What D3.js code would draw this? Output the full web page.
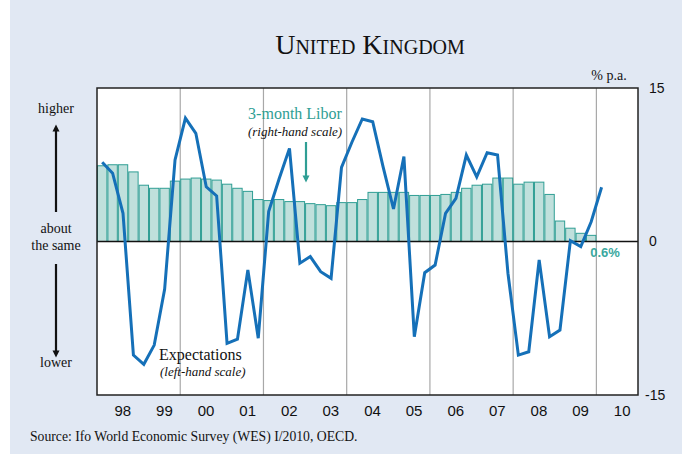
<!DOCTYPE html>
<html>
<head>
<meta charset="utf-8">
<script src="https://cdn.jsdelivr.net/npm/d3@7"></script>
<style>
  html, body { margin: 0; padding: 0; background: #ffffff; }
  svg { display: block; }
</style>
</head>
<body>
<svg id="chart" width="682" height="454"></svg>
<script>
// Quarterly observations, 1998 Q1 onwards
const startYear = 1998;
const yearLabels = ["98", "99", "00", "01", "02", "03", "04", "05", "06", "07", "08", "09", "10"];

// 3-month Libor, % p.a. (right-hand scale), 1998 Q1 – 2009 Q4
const liborValues = [
  7.4, 7.5, 7.5, 6.8,
  5.5, 5.2, 5.2, 5.9,
  6.1, 6.2, 6.1, 6.0,
  5.6, 5.2, 4.9, 4.1,
  4.0, 4.1, 3.9, 3.9,
  3.7, 3.6, 3.5, 3.8,
  3.8, 4.1, 4.8, 4.8,
  4.8, 4.8, 4.5, 4.5,
  4.5, 4.6, 4.8, 5.2,
  5.5, 5.6, 6.2, 6.2,
  5.6, 5.8, 5.8, 4.6,
  2.0, 1.3, 0.8, 0.6
];

// Economic expectations balance (left-hand scale), 1998 Q1 – 2010 Q1
const expectationValues = [
  31.0, 26.7, 11.0, -44.4,
  -48.0, -40.5, -18.7, 31.9,
  48.2, 42.3, 21.4, 17.8,
  -39.8, -38.2, -11.1, -37.8,
  11.7, 24.4, 36.4, -8.5,
  -5.9, -11.8, -14.4, 29.0,
  38.8, 47.9, 46.8, 29.2,
  12.7, 33.2, -37.2, -12.2,
  -9.2, 11.0, 16.9, 33.8,
  25.3, 34.7, 33.8, -12.4,
  -44.4, -43.1, -7.2, -37.2,
  -34.6, 0.3, -2.0, 7.7,
  21.2
];

const rightTicks = [15, 0, -15];
const gridYears = [2000, 2002, 2004, 2006, 2008, 2010];

const serif = "'Liberation Serif', 'Times New Roman', serif";
const sans = "'Liberation Sans', Arial, sans-serif";
const teal = "#2f9e94";
const lineBlue = "#1570b8";

const svg = d3.select("#chart");

// page panel
svg.append("rect").attr("x", 10).attr("y", 0).attr("width", 672).attr("height", 454)
  .attr("fill", "#e1e8f3");

const plot = { left: 97, right: 638, top: 88, bottom: 395 };

const x = d3.scaleLinear().domain([startYear, startYear + 13]).range([plot.left, plot.right]);
const yRight = d3.scaleLinear().domain([-15, 15]).range([plot.bottom, plot.top]);
const yLeft = d3.scaleLinear().domain([-60, 60]).range([plot.bottom, plot.top]);

// plot background
svg.append("rect")
  .attr("x", plot.left).attr("y", plot.top)
  .attr("width", plot.right - plot.left).attr("height", plot.bottom - plot.top)
  .attr("fill", "#ffffff");

// vertical gridlines every two years
svg.append("g").selectAll("line").data(gridYears).join("line")
  .attr("x1", d => x(d)).attr("x2", d => x(d))
  .attr("y1", plot.top).attr("y2", plot.bottom)
  .attr("stroke", "#a8a8a8").attr("stroke-width", 1.2);

// Libor bars
const qw = (x(startYear + 1) - x(startYear)) / 4;
svg.append("g").selectAll("rect").data(liborValues).join("rect")
  .attr("x", (d, i) => x(startYear + i / 4) + 0.5)
  .attr("width", qw - 1)
  .attr("y", d => yRight(d))
  .attr("height", d => yRight(0) - yRight(d))
  .attr("fill", "#c0e0dc")
  .attr("stroke", teal)
  .attr("stroke-width", 1);

// zero line
svg.append("line")
  .attr("x1", plot.left).attr("x2", plot.right)
  .attr("y1", yRight(0)).attr("y2", yRight(0))
  .attr("stroke", "#111").attr("stroke-width", 1.5);

// expectations line
const line = d3.line()
  .x((d, i) => x(startYear + i / 4 + 0.125))
  .y(d => yLeft(d));
svg.append("path")
  .datum(expectationValues)
  .attr("d", line)
  .attr("fill", "none")
  .attr("stroke", lineBlue)
  .attr("stroke-width", 3)
  .attr("stroke-linejoin", "miter");

// plot frame
svg.append("rect")
  .attr("x", plot.left).attr("y", plot.top)
  .attr("width", plot.right - plot.left).attr("height", plot.bottom - plot.top)
  .attr("fill", "none").attr("stroke", "#222").attr("stroke-width", 1.5);

// right axis labels
const rightAxis = d3.axisRight(yRight).tickValues(rightTicks).tickSize(0).tickPadding(11)
  .tickFormat(d => d === 0 ? "0" : (d < 0 ? "-" + Math.abs(d) : String(d)));
const ra = svg.append("g").attr("transform", `translate(${plot.right},0)`).call(rightAxis);
ra.select(".domain").remove();
ra.selectAll("text").attr("font-family", sans).attr("font-size", 14).attr("fill", "#111")
  .attr("dx", d => d < 0 ? -4 : 0);

// year labels under the axis
const years = yearLabels.map((t, i) => ({ t, year: startYear + i }));
svg.append("g").selectAll("text").data(years).join("text")
  .attr("x", d => x(d.year + 0.5) + 5)
  .attr("y", 416)
  .attr("text-anchor", "middle")
  .attr("font-family", sans).attr("font-size", 15).attr("fill", "#111")
  .text(d => d.t);

// title
svg.append("text")
  .attr("x", 370).attr("y", 54)
  .attr("text-anchor", "middle")
  .attr("font-family", serif).attr("font-size", 28)
  .style("font-variant", "small-caps")
  .attr("fill", "#111")
  .text("United Kingdom");

svg.append("text")
  .attr("x", 609).attr("y", 80).attr("text-anchor", "middle")
  .attr("font-family", serif).attr("font-size", 14).attr("fill", "#111")
  .text("% p.a.");

// left-hand scale description
const leftLabels = [
  { t: "higher", y: 113 },
  { t: "about", y: 233 },
  { t: "the same", y: 250 },
  { t: "lower", y: 367 }
];
svg.append("g").selectAll("text").data(leftLabels).join("text")
  .attr("x", 56).attr("y", d => d.y).attr("text-anchor", "middle")
  .attr("font-family", serif).attr("font-size", 14).attr("fill", "#111")
  .text(d => d.t);

const defs = svg.append("defs");
defs.append("marker").attr("id", "headBlack")
  .attr("viewBox", "0 0 10 10").attr("refX", 5).attr("refY", 5)
  .attr("markerWidth", 3.2).attr("markerHeight", 3.2).attr("orient", "auto")
  .append("path").attr("d", "M0,0 L10,5 L0,10 Z").attr("fill", "#111");
defs.append("marker").attr("id", "headTeal")
  .attr("viewBox", "0 0 10 10").attr("refX", 5).attr("refY", 5)
  .attr("markerWidth", 3.2).attr("markerHeight", 3.2).attr("orient", "auto")
  .append("path").attr("d", "M0,0 L10,5 L0,10 Z").attr("fill", teal);

svg.append("line").attr("x1", 56).attr("x2", 56).attr("y1", 212).attr("y2", 128)
  .attr("stroke", "#111").attr("stroke-width", 2.2).attr("marker-end", "url(#headBlack)");
svg.append("line").attr("x1", 56).attr("x2", 56).attr("y1", 264).attr("y2", 354)
  .attr("stroke", "#111").attr("stroke-width", 2.2).attr("marker-end", "url(#headBlack)");

// series annotations
svg.append("text").attr("x", 295).attr("y", 119).attr("text-anchor", "middle")
  .attr("font-family", serif).attr("font-size", 16).attr("fill", teal)
  .text("3-month Libor");
svg.append("text").attr("x", 295).attr("y", 136).attr("text-anchor", "middle")
  .attr("font-family", serif).attr("font-size", 13).attr("font-style", "italic").attr("fill", "#111")
  .text("(right-hand scale)");
svg.append("line").attr("x1", 306).attr("x2", 306).attr("y1", 142).attr("y2", 179)
  .attr("stroke", teal).attr("stroke-width", 2.2).attr("marker-end", "url(#headTeal)");

svg.append("text").attr("x", 159).attr("y", 360)
  .attr("font-family", serif).attr("font-size", 16).attr("fill", "#111")
  .text("Expectations");
svg.append("text").attr("x", 160).attr("y", 376)
  .attr("font-family", serif).attr("font-size", 13).attr("font-style", "italic").attr("fill", "#111")
  .text("(left-hand scale)");

// latest Libor value label
const lastIdx = liborValues.length - 1;
svg.append("text")
  .attr("x", x(startYear + lastIdx / 4 + 0.125) - 1)
  .attr("y", 257)
  .attr("font-family", sans).attr("font-size", 13).attr("font-weight", "bold").attr("fill", "#3aa8a0")
  .text(liborValues[lastIdx].toFixed(1) + "%");

// source
svg.append("text").attr("x", 30).attr("y", 441)
  .attr("font-family", serif).attr("font-size", 13.7).attr("fill", "#111")
  .text("Source: Ifo World Economic Survey (WES) I/2010, OECD.");
</script>
</body>
</html>
